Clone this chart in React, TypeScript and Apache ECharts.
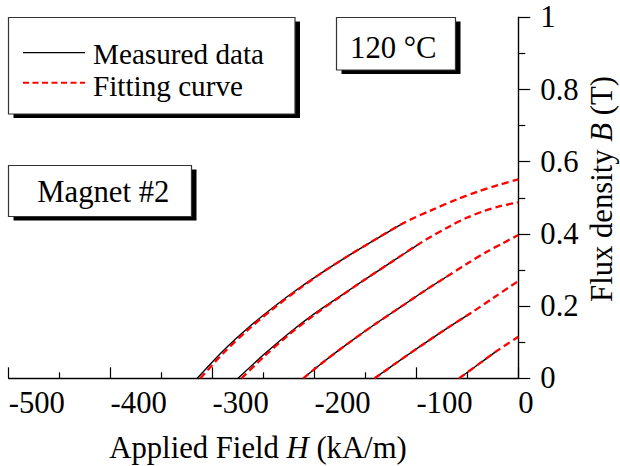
import React, { useEffect, useRef } from 'react';
import * as echarts from 'echarts';

const FONT = 'Liberation Serif';
const FS = 30.7;
const LEGEND_FS = 29.2;

// Measured data (H in kA/m, B in T)
const measured1 = [[-315, 0], [-290, 0.075], [-265, 0.14], [-240, 0.1975], [-215, 0.25], [-190, 0.2975], [-165, 0.3425], [-140, 0.385], [-112, 0.431]];
const measured2 = [[-275, 0], [-250, 0.065], [-225, 0.125], [-200, 0.179], [-175, 0.227], [-150, 0.2745], [-125, 0.321], [-95, 0.3765]];
const measured3 = [[-211, 0], [-190, 0.048], [-165, 0.1008], [-140, 0.151], [-115, 0.1985], [-90, 0.246], [-70, 0.282]];
const measured4 = [[-141, 0], [-120, 0.042], [-95, 0.091], [-70, 0.1385], [-47, 0.18]];
const measured5 = [[-58, 0], [-40, 0.037], [-21, 0.076]];

// Fitting curves
const fit1 = [[-312, 0], [-290, 0.068], [-265, 0.135], [-240, 0.194], [-215, 0.248], [-190, 0.2975], [-165, 0.3425], [-140, 0.385], [-112, 0.431], [-85, 0.466], [-60, 0.496], [-40, 0.517], [-20, 0.535], [0, 0.551]];
const fit2 = [[-271.5, 0], [-250, 0.059], [-225, 0.121], [-200, 0.176], [-175, 0.226], [-150, 0.2745], [-125, 0.321], [-95, 0.3765], [-67, 0.4215], [-50, 0.4453], [-34, 0.463], [-17, 0.4775], [0, 0.487]];
const fit3 = [[-211, 0], [-190, 0.048], [-165, 0.1008], [-140, 0.151], [-115, 0.1985], [-90, 0.246], [-70, 0.282], [-50, 0.318], [-30, 0.352], [-15, 0.3745], [0, 0.397]];
const fit4 = [[-141, 0], [-120, 0.042], [-95, 0.091], [-70, 0.1385], [-47, 0.18], [-24, 0.2237], [0, 0.2693]];
const fit5 = [[-58, 0], [-40, 0.037], [-21, 0.076], [0, 0.115]];

const measuredSets = [measured1, measured2, measured3, measured4, measured5];
const fitSets = [fit1, fit2, fit3, fit4, fit5];

const xMin = -500;
const xMax = 0;
const xStep = 100;
const yMin = 0;
const yMax = 1;
const yStep = 0.2;

const legendLabels = ['Measured data', 'Fitting curve'];
const tempLabel = '120 °C';
const magnetLabel = 'Magnet #2';

function boxWithShadow(x: number, y: number, w: number, h: number) {
  return [
    { type: 'rect', shape: { x: x + 5, y: y + 4, width: w, height: h }, style: { fill: '#000' }, z: 10 },
    { type: 'rect', shape: { x, y, width: w, height: h }, style: { fill: '#fff', stroke: '#333', lineWidth: 1.2 }, z: 11 },
  ];
}

export default function App() {
  const ref = useRef<HTMLDivElement>(null);
  useEffect(() => {
    document.body.style.margin = '0';
    const chart = echarts.init(ref.current!, undefined, { renderer: 'svg' });
    const textBase = { fontFamily: FONT, fontSize: FS, fill: '#000' };
    const series: any[] = [];
    measuredSets.forEach((d) => {
      series.push({
        name: legendLabels[0],
        type: 'line',
        data: d,
        showSymbol: false,
        smooth: 0.3,
        lineStyle: { color: '#000', width: 1.4 },
        z: 2,
      });
    });
    fitSets.forEach((d) => {
      series.push({
        name: legendLabels[1],
        type: 'line',
        data: d,
        showSymbol: false,
        smooth: 0.3,
        lineStyle: { color: '#ff0000', width: 2.3, type: [7, 4] },
        z: 3,
      });
    });
    const option: any = {
      animation: false,
      backgroundColor: '#fff',
      grid: { left: 8.7, right: 101.7, top: 17.3, bottom: 87.7, containLabel: false },
      xAxis: {
        type: 'value',
        min: xMin,
        max: xMax,
        interval: xStep,
        position: 'bottom',
        axisLine: { show: true, onZero: false, lineStyle: { color: '#000', width: 1.4 } },
        axisTick: { show: true, inside: true, length: 11, lineStyle: { color: '#000', width: 1.2 } },
        minorTick: { show: true, splitNumber: 2, length: 6, lineStyle: { color: '#000', width: 1.2 } },
        splitLine: { show: false },
        axisLabel: { align: 'left', margin: 9, color: '#000', fontFamily: FONT, fontSize: FS },
      },
      yAxis: {
        type: 'value',
        min: yMin,
        max: yMax,
        interval: yStep,
        position: 'right',
        axisLine: { show: true, onZero: false, lineStyle: { color: '#000', width: 1.4 } },
        axisTick: { show: true, inside: false, length: 12, lineStyle: { color: '#000', width: 1.2 } },
        minorTick: { show: true, splitNumber: 2, length: 7, lineStyle: { color: '#000', width: 1.2 } },
        splitLine: { show: false },
        axisLabel: { margin: 22, color: '#000', fontFamily: FONT, fontSize: FS },
      },
      series,
      graphic: [
        ...boxWithShadow(8.5, 17.5, 286.5, 96.5),
        { type: 'line', shape: { x1: 23, y1: 52.7, x2: 85, y2: 52.7 }, style: { stroke: '#000', lineWidth: 1.3 }, z: 12 },
        { type: 'line', shape: { x1: 23, y1: 82.7, x2: 85, y2: 82.7 }, style: { stroke: '#ff0000', lineWidth: 2, lineDash: [6, 3.5] }, z: 12 },
        { type: 'text', x: 93, y: 53.6, style: { ...textBase, fontSize: LEGEND_FS, text: legendLabels[0], align: 'left', verticalAlign: 'middle' }, z: 12 },
        { type: 'text', x: 93, y: 86.2, style: { ...textBase, fontSize: LEGEND_FS, text: legendLabels[1], align: 'left', verticalAlign: 'middle' }, z: 12 },
        ...boxWithShadow(336.5, 17.5, 119, 52.5),
        { type: 'text', x: 393.3, y: 48.2, style: { ...textBase, text: tempLabel, align: 'center', verticalAlign: 'middle' }, z: 12 },
        ...boxWithShadow(8.5, 165.5, 183, 51),
        { type: 'text', x: 103.3, y: 191.6, style: { ...textBase, text: magnetLabel, align: 'center', verticalAlign: 'middle' }, z: 12 },
        {
          type: 'text', x: 258, y: 448,
          style: {
            ...textBase,
            text: '{a|Applied Field }{b|H}{a| (kA/m)}',
            align: 'center', verticalAlign: 'middle',
            rich: {
              a: { fontFamily: FONT, fontSize: FS, fill: '#000' },
              b: { fontFamily: FONT, fontSize: FS, fontStyle: 'italic', fill: '#000' },
            },
          },
          z: 12,
        },
        {
          type: 'text', x: 602, y: 189, rotation: Math.PI / 2,
          style: {
            ...textBase,
            text: '{a|Flux density }{b|B}{a| (T)}',
            align: 'center', verticalAlign: 'middle',
            rich: {
              a: { fontFamily: FONT, fontSize: FS, fill: '#000' },
              b: { fontFamily: FONT, fontSize: FS, fontStyle: 'italic', fill: '#000' },
            },
          },
          z: 12,
        },
      ],
    };
    chart.setOption(option);
    return () => chart.dispose();
  }, []);
  return <div ref={ref} style={{ position: 'fixed', left: 0, top: 0, width: 620, height: 466 }} />;
}
